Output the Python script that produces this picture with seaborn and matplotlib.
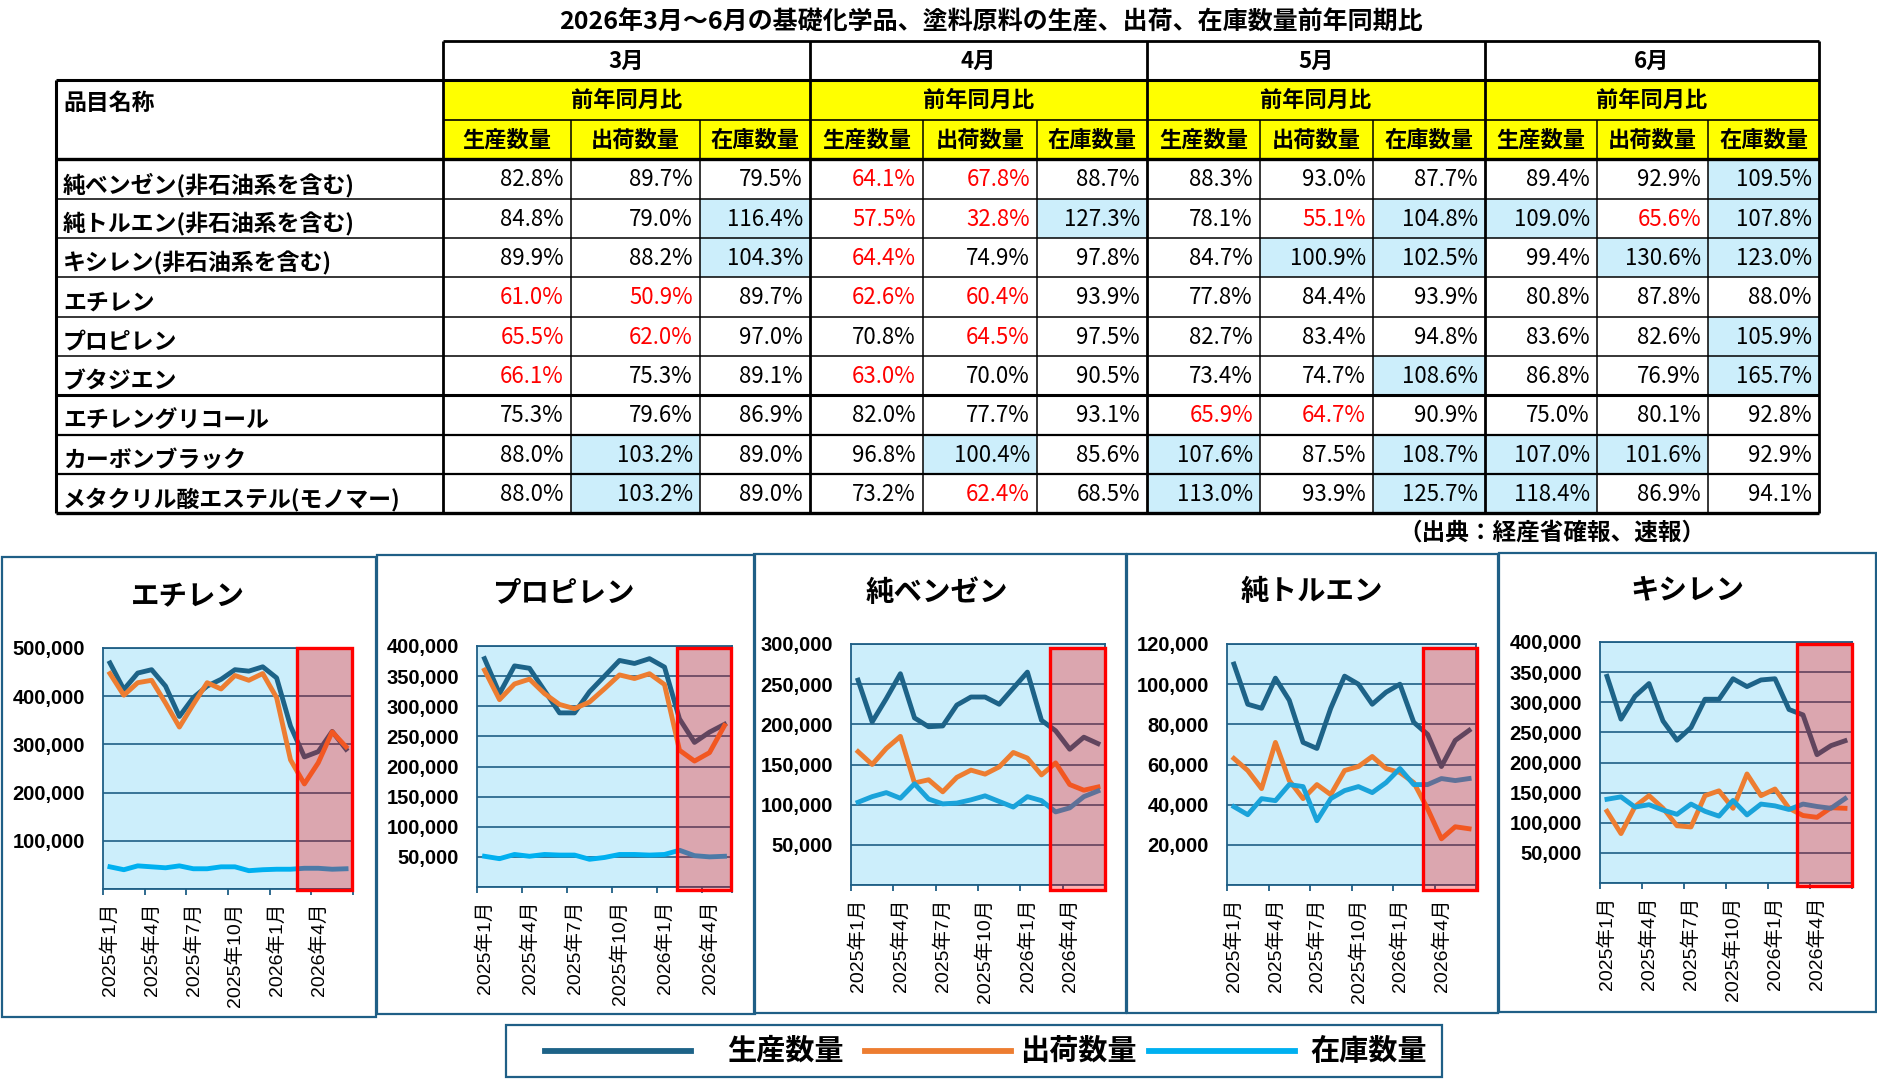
import numpy as np
import pandas as pd
import matplotlib
matplotlib.use('Agg')
import matplotlib.pyplot as plt
from matplotlib.patches import Rectangle
from matplotlib.lines import Line2D
import seaborn as sns

plt.rcParams['font.family'] = ['Liberation Sans', 'Noto Sans CJK JP']
JP = ['Noto Sans CJK JP', 'DejaVu Sans']
W, H = 1877, 1087

# ---------------- table data (前年同月比, %) ----------------
items = ['純ベンゼン(非石油系を含む)', '純トルエン(非石油系を含む)', 'キシレン(非石油系を含む)',
         'エチレン', 'プロピレン', 'ブタジエン', 'エチレングリコール', 'カーボンブラック',
         'メタクリル酸エステル(モノマー)']
month_heads = ['3月', '4月', '5月', '6月']
series_names = ['生産数量', '出荷数量', '在庫数量']

# rows: [生産, 出荷, 在庫]
yoy_mar = [[82.8, 89.7, 79.5], [84.8, 79.0, 116.4], [89.9, 88.2, 104.3], [61.0, 50.9, 89.7],
           [65.5, 62.0, 97.0], [66.1, 75.3, 89.1], [75.3, 79.6, 86.9], [88.0, 103.2, 89.0],
           [88.0, 103.2, 89.0]]
yoy_apr = [[64.1, 67.8, 88.7], [57.5, 32.8, 127.3], [64.4, 74.9, 97.8], [62.6, 60.4, 93.9],
           [70.8, 64.5, 97.5], [63.0, 70.0, 90.5], [82.0, 77.7, 93.1], [96.8, 100.4, 85.6],
           [73.2, 62.4, 68.5]]
yoy_may = [[88.3, 93.0, 87.7], [78.1, 55.1, 104.8], [84.7, 100.9, 102.5], [77.8, 84.4, 93.9],
           [82.7, 83.4, 94.8], [73.4, 74.7, 108.6], [65.9, 64.7, 90.9], [107.6, 87.5, 108.7],
           [113.0, 93.9, 125.7]]
yoy_jun = [[89.4, 92.9, 109.5], [109.0, 65.6, 107.8], [99.4, 130.6, 123.0], [80.8, 87.8, 88.0],
           [83.6, 82.6, 105.9], [86.8, 76.9, 165.7], [75.0, 80.1, 92.8], [107.0, 101.6, 92.9],
           [118.4, 86.9, 94.1]]

# ---------------- monthly series (tonnes) ----------------
months = ['2025年1月', '2025年2月', '2025年3月', '2025年4月', '2025年5月', '2025年6月',
          '2025年7月', '2025年8月', '2025年9月', '2025年10月', '2025年11月', '2025年12月',
          '2026年1月', '2026年2月', '2026年3月', '2026年4月', '2026年5月', '2026年6月']

ethylene_prod = [469000, 414000, 448000, 455000, 421000, 358000, 397000, 421000, 435000,
                 455000, 452000, 461000, 438000, 338000, 274000, 285000, 327000, 290000]
ethylene_ship = [447000, 402000, 428000, 433000, 386000, 336000, 383000, 428000, 415000,
                 443000, 433000, 447000, 397000, 268000, 218000, 262000, 326000, 295000]
ethylene_inv = [46000, 40000, 48000, 46000, 44000, 48000, 42000, 42000, 46000,
                46000, 38000, 40000, 41000, 41000, 43000, 43000, 41000, 42000]

propylene_prod = [379000, 321000, 367000, 363000, 326000, 289000, 289000, 324000, 350000,
                  376000, 371000, 379000, 365000, 279000, 240000, 257000, 270000]
propylene_ship = [360000, 311000, 337000, 345000, 321000, 303000, 296000, 307000, 329000,
                  352000, 346000, 354000, 336000, 227000, 209000, 223000, 268000]
propylene_inv = [51000, 47000, 54000, 51000, 54000, 53000, 53000, 46000, 49000,
                 54000, 54000, 53000, 54000, 61000, 52000, 50000, 51000]

benzene_prod = [255000, 203000, 232000, 263000, 208000, 197000, 198000, 224000, 234000,
                234000, 225000, 245000, 265000, 205000, 192000, 169000, 184000, 176000]
benzene_ship = [166000, 150000, 170000, 185000, 127000, 131000, 116000, 134000, 143000,
                138000, 147000, 165000, 158000, 137000, 152000, 125000, 118000, 122000]
benzene_inv = [103000, 110000, 115000, 108000, 126000, 107000, 101000, 102000, 106000,
               111000, 104000, 97000, 110000, 105000, 91000, 96000, 110000, 117000]

toluene_prod = [110000, 90000, 88000, 103000, 92000, 71000, 68000, 88000, 104000,
                100000, 90000, 96000, 100000, 81000, 75000, 59000, 72000, 77000]
toluene_ship = [63000, 57000, 48000, 71000, 52000, 43000, 50000, 45000, 57000,
                59000, 64000, 58000, 56000, 51000, 38000, 23000, 29000, 28000]
toluene_inv = [39000, 35000, 43000, 42000, 50000, 49000, 32000, 43000, 47000,
               49000, 46000, 51000, 58000, 50000, 50000, 53000, 52000, 53000]

xylene_prod = [343000, 272000, 310000, 331000, 269000, 237000, 258000, 305000, 305000,
               339000, 326000, 337000, 339000, 288000, 279000, 213000, 228000, 236000]
xylene_ship = [119000, 82000, 127000, 145000, 124000, 95000, 93000, 145000, 153000,
               124000, 181000, 145000, 156000, 124000, 112000, 109000, 125000, 124000]
xylene_inv = [139000, 143000, 126000, 130000, 121000, 114000, 131000, 119000, 111000,
              137000, 113000, 131000, 128000, 122000, 131000, 127000, 124000, 140000]

# ---------------- styling ----------------
dark = '#1F5F86'
plot_bg = '#CCEEFB'
cell_blue = '#CCEEFB'
line_colors = {'生産数量': '#1D6388', '出荷数量': '#ED7D31', '在庫数量': '#00B0F0'}

fig = plt.figure(figsize=(W / 100, H / 100), dpi=100)
bg = fig.add_axes([0, 0, 1, 1], zorder=0)
bg.set_xlim(0, W)
bg.set_ylim(H, 0)
bg.axis('off')


def fx(x):
    return x / W


def fy(y):
    return 1 - y / H


# ---------------- table ----------------
col_edges = [443, 571, 700, 810, 923, 1037, 1147, 1260, 1373, 1485, 1597, 1708, 1819]
row_edges = [159, 199, 238, 277, 317, 356, 395, 435, 474, 513]
name_left = 56

bg.text(991, 22, '2026年3月～6月の基礎化学品、塗料原料の生産、出荷、在庫数量前年同期比',
        ha='center', va='center', fontsize=18, fontweight='bold', family=JP)

bg.add_patch(Rectangle((443, 80), 1819 - 443, 79, fc='#FFFF00', ec='none'))

for m, block in enumerate([yoy_mar, yoy_apr, yoy_may, yoy_jun]):
    gx0, gx1 = col_edges[3 * m], col_edges[3 * m + 3]
    bg.text((gx0 + gx1) / 2, 61, month_heads[m], ha='center', va='center', fontsize=16,
            fontweight='bold', family=JP)
    bg.text((gx0 + gx1) / 2, 100, '前年同月比', ha='center', va='center', fontsize=16,
            fontweight='bold', family=JP)
    for k in range(3):
        c = 3 * m + k
        bg.text((col_edges[c] + col_edges[c + 1]) / 2, 140, series_names[k], ha='center',
                va='center', fontsize=16, fontweight='bold', family=JP)
    for r, vals in enumerate(block):
        for k, v in enumerate(vals):
            c = 3 * m + k
            x0, x1 = col_edges[c], col_edges[c + 1]
            y0, y1 = row_edges[r], row_edges[r + 1]
            if v >= 100:
                bg.add_patch(Rectangle((x0, y0), x1 - x0, y1 - y0, fc=cell_blue, ec='none'))
            color = '#FF0000' if (v < 70 and k < 2) else 'black'
            bg.text(x1 - 7, (y0 + y1) / 2 + 1, f'{v:.1f}%', ha='right', va='center',
                    fontsize=16, color=color, family=JP)

bg.text(63, 103, '品目名称', ha='left', va='center', fontsize=16.5, fontweight='bold', family=JP)
for r, name in enumerate(items):
    bg.text(63, (row_edges[r] + row_edges[r + 1]) / 2 + 6, name, ha='left', va='center',
            fontsize=16.5, fontweight='bold', family=JP)

# table rules
bg.hlines(41, 443, 1819, colors='black', lw=2)
bg.hlines(80, name_left, 1819, colors='black', lw=2.2)
bg.hlines(120, 443, 1819, colors='black', lw=1.2)
bg.hlines(159, name_left, 1819, colors='black', lw=2.4)
for y in row_edges[1:-1]:
    lw = 2.2 if y == 395 else (1.6 if y > 395 else 1.1)
    bg.hlines(y, name_left, 1819, colors='black', lw=lw)
bg.hlines(513, name_left, 1819, colors='black', lw=2.4)
bg.vlines(name_left, 80, 513, colors='black', lw=2.2)
for i, x in enumerate(col_edges):
    if i % 3 == 0:
        bg.vlines(x, 41, 513, colors='black', lw=2)
    else:
        bg.vlines(x, 120, 513, colors='black', lw=1.1)

bg.text(1706, 533, '（出典：経産省確報、速報）', ha='right', va='center', fontsize=17,
        fontweight='bold', family=JP)

# ---------------- line charts ----------------
charts = [
    dict(name='エチレン', prod=ethylene_prod, ship=ethylene_ship, inv=ethylene_inv,
         ymax=500000, step=100000, ax_px=(103, 648, 353, 889), panel=(2, 557, 376, 1017),
         red=(13.95, 17.95, -0.006, 1.0), title=(188, 597), inv_color='#00B0F0'),
    dict(name='プロピレン', prod=propylene_prod, ship=propylene_ship, inv=propylene_inv,
         ymax=400000, step=50000, ax_px=(477, 646, 732, 887), panel=(377, 555, 755, 1014),
         red=(13.3, 16.95, -0.014, 0.992), title=(563, 593), inv_color='#00B0F0'),
    dict(name='純ベンゼン', prod=benzene_prod, ship=benzene_ship, inv=benzene_inv,
         ymax=300000, step=50000, ax_px=(851, 644, 1105, 885), panel=(754, 554, 1126, 1013),
         red=(14.1, 18.0, -0.019, 0.982), title=(937, 593), inv_color='#1AA3DA'),
    dict(name='純トルエン', prod=toluene_prod, ship=toluene_ship, inv=toluene_inv,
         ymax=120000, step=20000, ax_px=(1227, 644, 1476, 885), panel=(1127, 554, 1498, 1013),
         red=(14.17, 18.07, -0.019, 0.982), title=(1312, 592), inv_color='#1AA3DA'),
    dict(name='キシレン', prod=xylene_prod, ship=xylene_ship, inv=xylene_inv,
         ymax=400000, step=50000, ax_px=(1600, 642, 1852, 883), panel=(1499, 553, 1876, 1012),
         red=(14.05, 17.98, -0.011, 0.99), title=(1687, 590), inv_color='#1AA3DA'),
]

for spec in charts:
    x0, y0, x1, y1 = spec['ax_px']
    ax = fig.add_axes([fx(x0), fy(y1), (x1 - x0) / W, (y1 - y0) / H], zorder=2)
    n = len(spec['prod'])
    df = pd.DataFrame({'月': months[:n], '生産数量': spec['prod'], '出荷数量': spec['ship'],
                       '在庫数量': spec['inv']}).melt('月', var_name='系列', value_name='数量')
    pal = dict(line_colors)
    pal['在庫数量'] = spec['inv_color']
    sns.lineplot(data=df, x='月', y='数量', hue='系列', hue_order=series_names, palette=pal,
                 linewidth=3.5, sort=False, legend=False, errorbar=None, ax=ax)

    ax.set_facecolor(plot_bg)
    ax.set_xlabel('')
    ax.set_ylabel('')
    ax.set_xlim(-0.5, n - 0.5)
    ax.set_ylim(0, spec['ymax'])

    yt = np.arange(0, spec['ymax'] + spec['step'], spec['step'])
    ax.set_yticks(yt, labels=[f'{int(t):,}' if t > 0 else '' for t in yt],
                  fontsize=14.5, fontweight='bold')
    ax.tick_params(axis='y', length=0, pad=13)
    ax.grid(axis='y', color=dark, lw=1.2)
    ax.grid(axis='x', visible=False)
    ax.set_axisbelow(True)

    bounds = sorted(set(list(range(0, n + 1, 3)) + [n]))
    ax.set_xticks([b - 0.5 for b in bounds], labels=['' for _ in bounds])
    ax.set_xticks(list(range(0, n, 3)), labels=[months[k] for k in range(0, n, 3)],
                  minor=True, rotation=90, fontsize=14)
    ax.tick_params(axis='x', which='major', length=4, width=1.3, color=dark, direction='out')
    ax.tick_params(axis='x', which='minor', length=0, pad=10)
    for s in ax.spines.values():
        s.set_color(dark)
        s.set_linewidth(1.3)

    rx0, rx1, ry0, ry1 = spec['red']
    ax.add_patch(Rectangle((rx0 - 0.5, ry0), rx1 - rx0, ry1 - ry0,
                           transform=ax.get_xaxis_transform(), fc=(1, 0, 0, 0.3),
                           ec='#FF0000', lw=2.4, clip_on=False, zorder=5))

    tx, ty = spec['title']
    fig.text(fx(tx), fy(ty), spec['name'], ha='center', va='center', fontsize=20.5,
             fontweight='bold', family=JP)
    px0, py0, px1, py1 = spec['panel']
    bg.add_patch(Rectangle((px0, py0), px1 - px0, py1 - py0, fill=False, ec=dark, lw=1.6))

# ---------------- legend ----------------
bg.add_patch(Rectangle((506, 1025), 936, 52, fill=False, ec=dark, lw=1.6))
legend_lines = [(545, 691), (865, 1011), (1149, 1295)]
legend_text_x = [727, 1020, 1310]
for s, (lx0, lx1), tx in zip(series_names, legend_lines, legend_text_x):
    bg.add_line(Line2D([lx0, lx1], [1051, 1051], color=line_colors[s], lw=4.2))
    bg.text(tx, 1051, s, ha='left', va='center', fontsize=21, fontweight='bold', family=JP)

fig.savefig('out.png', dpi=100)
